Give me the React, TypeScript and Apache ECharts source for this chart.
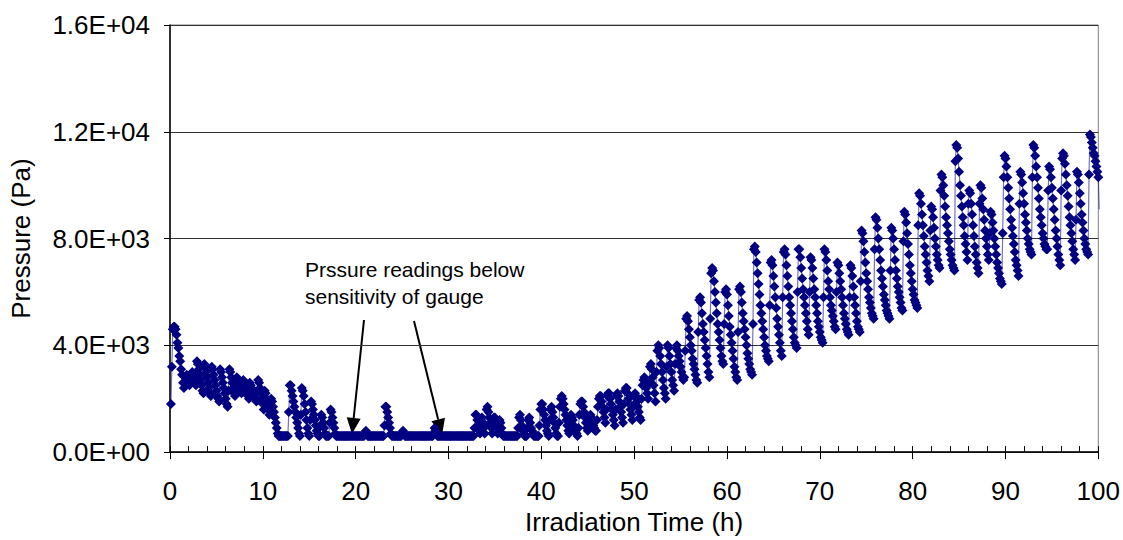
import React, { useEffect, useRef } from "react";
import * as echarts from "echarts";

// Pressure readings in hPa (x100 Pa), sampled every 0.1 h. Each entry: [start time (h), values].
const dt = 0.1;

const earlyCycles: [number, number[]][] = [
  [0.1, [18, 32, 46, 47, 47, 46, 44, 41, 39, 36, 34, 31, 29, 26, 24, 26, 28, 29, 28, 27, 25, 27, 29, 30, 29, 28, 26, 25]],
  [2.9, [34, 33, 31, 29, 27, 25, 23, 22]],
  [3.7, [33, 32, 30, 28, 26, 24, 22, 21]],
  [4.5, [32, 31, 29, 27, 25, 23, 21, 20, 19]],
  [5.4, [31, 30, 28, 26, 24, 22, 20, 18, 17]],
  [6.3, [23, 31, 30, 28, 26, 24, 22, 21]],
  [7.1, [25, 28, 27, 26, 24, 23, 22]],
  [7.8, [24, 27, 26, 25, 23, 22, 21, 20]],
  [8.6, [26, 25, 24, 23, 22, 21, 20, 19]],
  [9.4, [23, 27, 26, 24, 22, 20, 18, 16]],
  [10.2, [23, 22, 20, 18, 16, 14]],
  [10.8, [17, 20, 19, 17, 15, 13, 11, 9, 7, 6]],
  [11.8, [6, 6, 6, 6, 6, 6, 6, 6, 6, 6]],
  [12.8, [15, 25, 25, 23, 21, 19, 17, 15, 13, 11, 9, 7]],
  [14.0, [6, 14, 24, 23, 21, 18, 15, 12, 9, 7]],
  [15.0, [6, 12, 19, 18, 16, 14, 12, 10, 8, 7]],
  [16.0, [6, 6, 10, 14, 13, 11, 9, 7, 6]],
  [16.9, [6, 6, 6, 11, 16, 15, 13, 11, 9, 7, 6]],
];

const floorCycles: [number, number[]][] = [
  [18.0, [6, 6, 6, 6, 6, 6, 6, 6, 6, 6, 6, 6, 6, 6, 6, 6, 6, 6, 6, 6, 6, 6, 6, 6, 6, 6, 6, 6, 6, 6]],
  [21.0, [7, 8, 7]],
  [21.3, [6, 6, 6, 6, 6, 6, 6, 6, 6, 6, 6, 6, 6, 6, 6, 6, 6, 6]],
  [23.1, [10, 17, 17, 15, 13, 11, 9, 7]],
  [23.9, [6, 6, 6, 6, 6, 6, 6, 6, 6, 6, 6]],
  [25.0, [7, 8, 7]],
  [25.3, [6, 6, 6, 6, 6, 6, 6, 6, 6, 6, 6, 6, 6, 6, 6, 6, 6, 6, 6, 6, 6, 6, 6, 6, 6, 6, 6, 6, 6, 6, 6]],
  [28.4, [7, 9, 8, 7]],
  [28.8, [6, 6, 6, 6, 6, 6, 6, 6, 6, 6, 6, 6, 6, 6, 6, 6, 6, 6, 6, 6, 6, 6, 6, 6, 6, 6, 6, 6, 6, 6, 6, 6, 6, 6, 6, 6, 6, 6, 6, 6]],
];

const lowCycles: [number, number[]][] = [
  [32.8, [9, 14, 14, 12, 10, 8, 7]],
  [33.5, [12, 13, 11, 9, 7]],
  [34.0, [10, 16, 17, 15, 13, 11, 9, 7]],
  [34.8, [11, 13, 13, 11, 9, 7]],
  [35.4, [10, 12, 11, 9, 7, 6]],
  [36.0, [6, 6, 6, 6, 6, 6, 6, 6, 6, 6, 6, 6, 6, 6, 6]],
  [37.5, [9, 13, 14, 12, 10, 8, 7, 6, 6, 6]],
  [38.5, [9, 12, 13, 11, 9, 8, 7, 6, 6, 6, 6, 6, 6]],
  [39.8, [10, 16, 18, 18, 16, 14, 12, 10, 8, 7]],
  [40.8, [6, 12, 16, 17, 15, 13, 11, 9, 7, 6]],
  [41.8, [6, 11, 17, 20, 21, 20, 18, 16, 14, 12, 10, 8]],
  [43.0, [7, 11, 14, 13, 12, 10, 9, 8]],
  [43.8, [7, 6, 9, 14, 18, 19, 19, 17, 15, 13, 11, 9]],
  [45.0, [8, 10, 13, 14, 13, 12, 10, 9, 8, 8]],
  [46.0, [12, 17, 20, 21, 21, 19, 17, 15, 13, 11]],
  [47.0, [16, 21, 22, 22, 20, 18, 16, 14, 12, 10]],
  [48.0, [16, 21, 22, 21, 19, 17, 15, 13, 11]],
  [48.9, [18, 23, 24, 24, 22, 20, 18, 16, 14, 12]],
  [49.9, [17, 21, 22, 21, 19, 17, 15, 13, 12]],
];

const riseCycles: [number, number[]][] = [
  [50.8, [20, 25, 27, 28, 26, 24, 22, 20]],
  [51.6, [26, 32, 33, 31, 28, 25, 22, 19]],
  [52.4, [30, 38, 40, 39, 36, 33, 30, 27, 24, 22, 20]],
  [53.5, [32, 40, 39, 36, 33, 30, 27, 25, 23]],
  [54.4, [33, 39, 40, 38, 36, 34, 32, 30, 28, 27]],
  [55.4, [28, 38, 50, 51, 49, 46, 43, 40, 38, 35, 33, 31, 29, 27, 26]],
  [56.9, [45, 57, 58, 56, 52, 48, 45, 42, 39, 36, 33, 30, 28]],
  [58.2, [50, 67, 69, 68, 64, 60, 56, 52, 48, 45, 42, 39, 36, 34, 33]],
  [59.7, [48, 60, 61, 59, 55, 51, 47, 44, 41, 38, 35, 32, 30, 28, 27]],
  [61.2, [45, 61, 62, 60, 56, 52, 49, 46, 43, 40, 37, 35, 33, 31, 30, 29]],
  [62.8, [48, 76, 77, 75, 71, 67, 63, 59, 55, 52, 49, 46, 43, 40, 38, 36, 35, 34]],
  [64.6, [55, 71, 72, 70, 66, 62, 58, 54, 50, 47, 44, 41, 38, 36]],
  [66.0, [58, 75, 76, 74, 70, 66, 62, 58, 55, 52, 49, 46, 43, 41, 40, 39]],
  [67.6, [60, 76, 76, 73, 69, 65, 61, 58, 55, 52, 49, 46, 44]],
  [68.9, [60, 73, 72, 69, 65, 61, 58, 55, 52, 49, 47, 45, 43, 42, 41]],
  [70.4, [58, 76, 75, 72, 68, 64, 61, 58, 55, 53, 51, 49, 47, 46]],
  [71.8, [60, 71, 70, 67, 64, 61, 58, 55, 52, 50, 48, 46, 45, 44]],
  [73.2, [58, 70, 69, 66, 62, 58, 55, 52, 49, 47, 46, 45]],
  [74.4, [64, 83, 82, 79, 75, 71, 67, 64, 61, 58, 56, 54, 52, 51, 50]],
];

const lateCycles: [number, number[]][] = [
  [75.9, [76, 88, 87, 84, 80, 76, 72, 68, 65, 62, 59, 57, 55, 53, 52, 51, 50]],
  [77.6, [68, 84, 83, 80, 76, 72, 68, 65, 62, 60, 58, 56, 54, 53]],
  [79.0, [79, 90, 89, 86, 82, 78, 74, 70, 67, 64, 61, 59, 57, 56, 55, 54]],
  [80.6, [85, 97, 96, 93, 89, 85, 81, 77, 74, 71, 68, 66, 64]],
  [81.9, [83, 92, 91, 88, 84, 80, 77, 74, 72, 70, 69]],
  [83.0, [98, 104, 103, 100, 96, 92, 88, 85, 82, 79, 76, 74, 72, 70, 69, 68]],
  [84.6, [109, 115, 114, 110, 105, 100, 96, 92, 88, 85, 81, 78, 75, 72]],
  [86.0, [93, 98, 97, 93, 89, 85, 81, 77, 74, 71, 69, 67]],
  [87.2, [93, 100, 99, 95, 91, 87, 83, 80, 77, 74, 72]],
  [88.3, [82, 90, 89, 86, 83, 80, 77, 74, 71, 69, 67, 65, 64, 63]],
  [89.7, [82, 103, 111, 110, 107, 103, 99, 95, 91, 87, 84, 81, 78, 75, 72, 70, 68, 66]],
  [91.5, [93, 105, 104, 101, 97, 93, 89, 86, 83, 80, 78, 76, 75, 74]],
  [92.9, [103, 115, 114, 111, 107, 103, 99, 95, 91, 88, 85, 82, 80, 78, 77, 76, 76]],
  [94.6, [98, 107, 106, 103, 99, 95, 91, 87, 83, 80, 77, 74, 72, 70]],
  [96.0, [98, 110, 112, 111, 108, 104, 100, 96, 92, 88, 85, 82, 79, 76, 74, 72]],
  [97.6, [87, 105, 104, 101, 97, 93, 89, 86, 83, 80, 78, 76, 75, 74]],
  [99.0, [104, 119, 118, 116, 114, 112, 111, 109, 107, 105, 103, 91]],
];

const yTicks = [0, 4000, 8000, 12000, 16000];
const xTicks = [0, 10, 20, 30, 40, 50, 60, 70, 80, 90, 100];

const FONT = '"Liberation Sans", Arial, sans-serif';

function buildData(): [number, number][] {
  const out: [number, number][] = [];
  [earlyCycles, floorCycles, lowCycles, riseCycles, lateCycles].forEach((group) => {
    group.forEach(([start, vals]) => {
      vals.forEach((v, i) => {
        out.push([Math.round((start + i * dt) * 100) / 100, v * 100]);
      });
    });
  });
  return out;
}

function expLabel(v: number): string {
  const s = v.toExponential(1);
  const [m, e] = s.split("e");
  const sign = e[0];
  const digits = e.slice(1).padStart(2, "0");
  return `${m}E${sign}${digits}`;
}

function arrow(x1: number, y1: number, x2: number, y2: number) {
  const dx = x2 - x1;
  const dy = y2 - y1;
  const L = Math.hypot(dx, dy);
  const ux = dx / L;
  const uy = dy / L;
  const hl = 16;
  const hw = 7;
  const bx = x2 - ux * hl;
  const by = y2 - uy * hl;
  return [
    { type: "line", shape: { x1, y1, x2: bx, y2: by }, style: { stroke: "#000", lineWidth: 2 } },
    {
      type: "polygon",
      shape: { points: [[x2, y2], [bx - uy * hw, by + ux * hw], [bx + uy * hw, by - ux * hw]] },
      style: { fill: "#000" },
    },
  ];
}

export default function App() {
  const ref = useRef<HTMLDivElement>(null);

  useEffect(() => {
    if (!ref.current) return;
    const chart = echarts.init(ref.current, undefined, { renderer: "svg" });
    const data = buildData();
    chart.setOption({
      animation: false,
      backgroundColor: "#ffffff",
      grid: { left: 168, right: 23, top: 25, bottom: 82, show: true, borderColor: "#808080", borderWidth: 1 },
      xAxis: [
        {
          type: "value",
          min: xTicks[0],
          max: xTicks[xTicks.length - 1],
          interval: 10,
          axisLine: { show: true, onZero: false, lineStyle: { color: "#000", width: 1.5 } },
          axisTick: { show: true, inside: false, length: 7, lineStyle: { color: "#000", width: 1 } },
          axisLabel: { fontSize: 26, color: "#000", fontFamily: FONT, margin: 26 },
          splitLine: { show: false },
          name: "Irradiation Time (h)",
          nameLocation: "middle",
          nameGap: 54,
          nameTextStyle: { fontSize: 26, color: "#000", fontFamily: FONT },
        },
        {
          type: "value",
          min: xTicks[0],
          max: xTicks[xTicks.length - 1],
          interval: 2,
          position: "bottom",
          axisLine: { show: false },
          axisTick: { show: true, inside: true, length: 6, lineStyle: { color: "#000", width: 1 } },
          axisLabel: { show: false },
          splitLine: { show: false },
        },
      ],
      yAxis: {
        type: "value",
        min: yTicks[0],
        max: yTicks[yTicks.length - 1],
        interval: 4000,
        axisLine: { show: true, onZero: false, lineStyle: { color: "#000", width: 1.5 } },
        axisTick: { show: true, inside: false, length: 6, lineStyle: { color: "#000" } },
        axisLabel: { fontSize: 26, color: "#000", fontFamily: FONT, margin: 20, formatter: (v: number) => expLabel(v) },
        splitLine: { show: true, lineStyle: { color: "#333", width: 1 } },
        name: "Pressure (Pa)",
        nameLocation: "middle",
        nameGap: 136,
        nameTextStyle: { fontSize: 26, color: "#000", fontFamily: FONT },
      },
      series: [
        {
          type: "line",
          xAxisIndex: 0,
          data,
          showAllSymbol: true,
          symbol: "diamond",
          symbolSize: 10,
          itemStyle: { color: "#000080" },
          lineStyle: { color: "#000080", width: 1.2, opacity: 0.55 },
          clip: true,
          z: 3,
        },
      ],
      graphic: [
        {
          type: "text",
          left: 305,
          top: 256,
          style: {
            text: "Prssure readings below\nsensitivity of gauge",
            font: `21px ${FONT}`,
            lineHeight: 27,
            fill: "#000",
          },
        },
        ...arrow(364, 320, 352, 434),
        ...arrow(414, 321, 442, 435),
      ],
    });
    return () => chart.dispose();
  }, []);

  return (
    <div
      ref={ref}
      style={{ position: "absolute", left: 0, top: 0, width: 1123, height: 540, background: "#fff" }}
    />
  );
}
